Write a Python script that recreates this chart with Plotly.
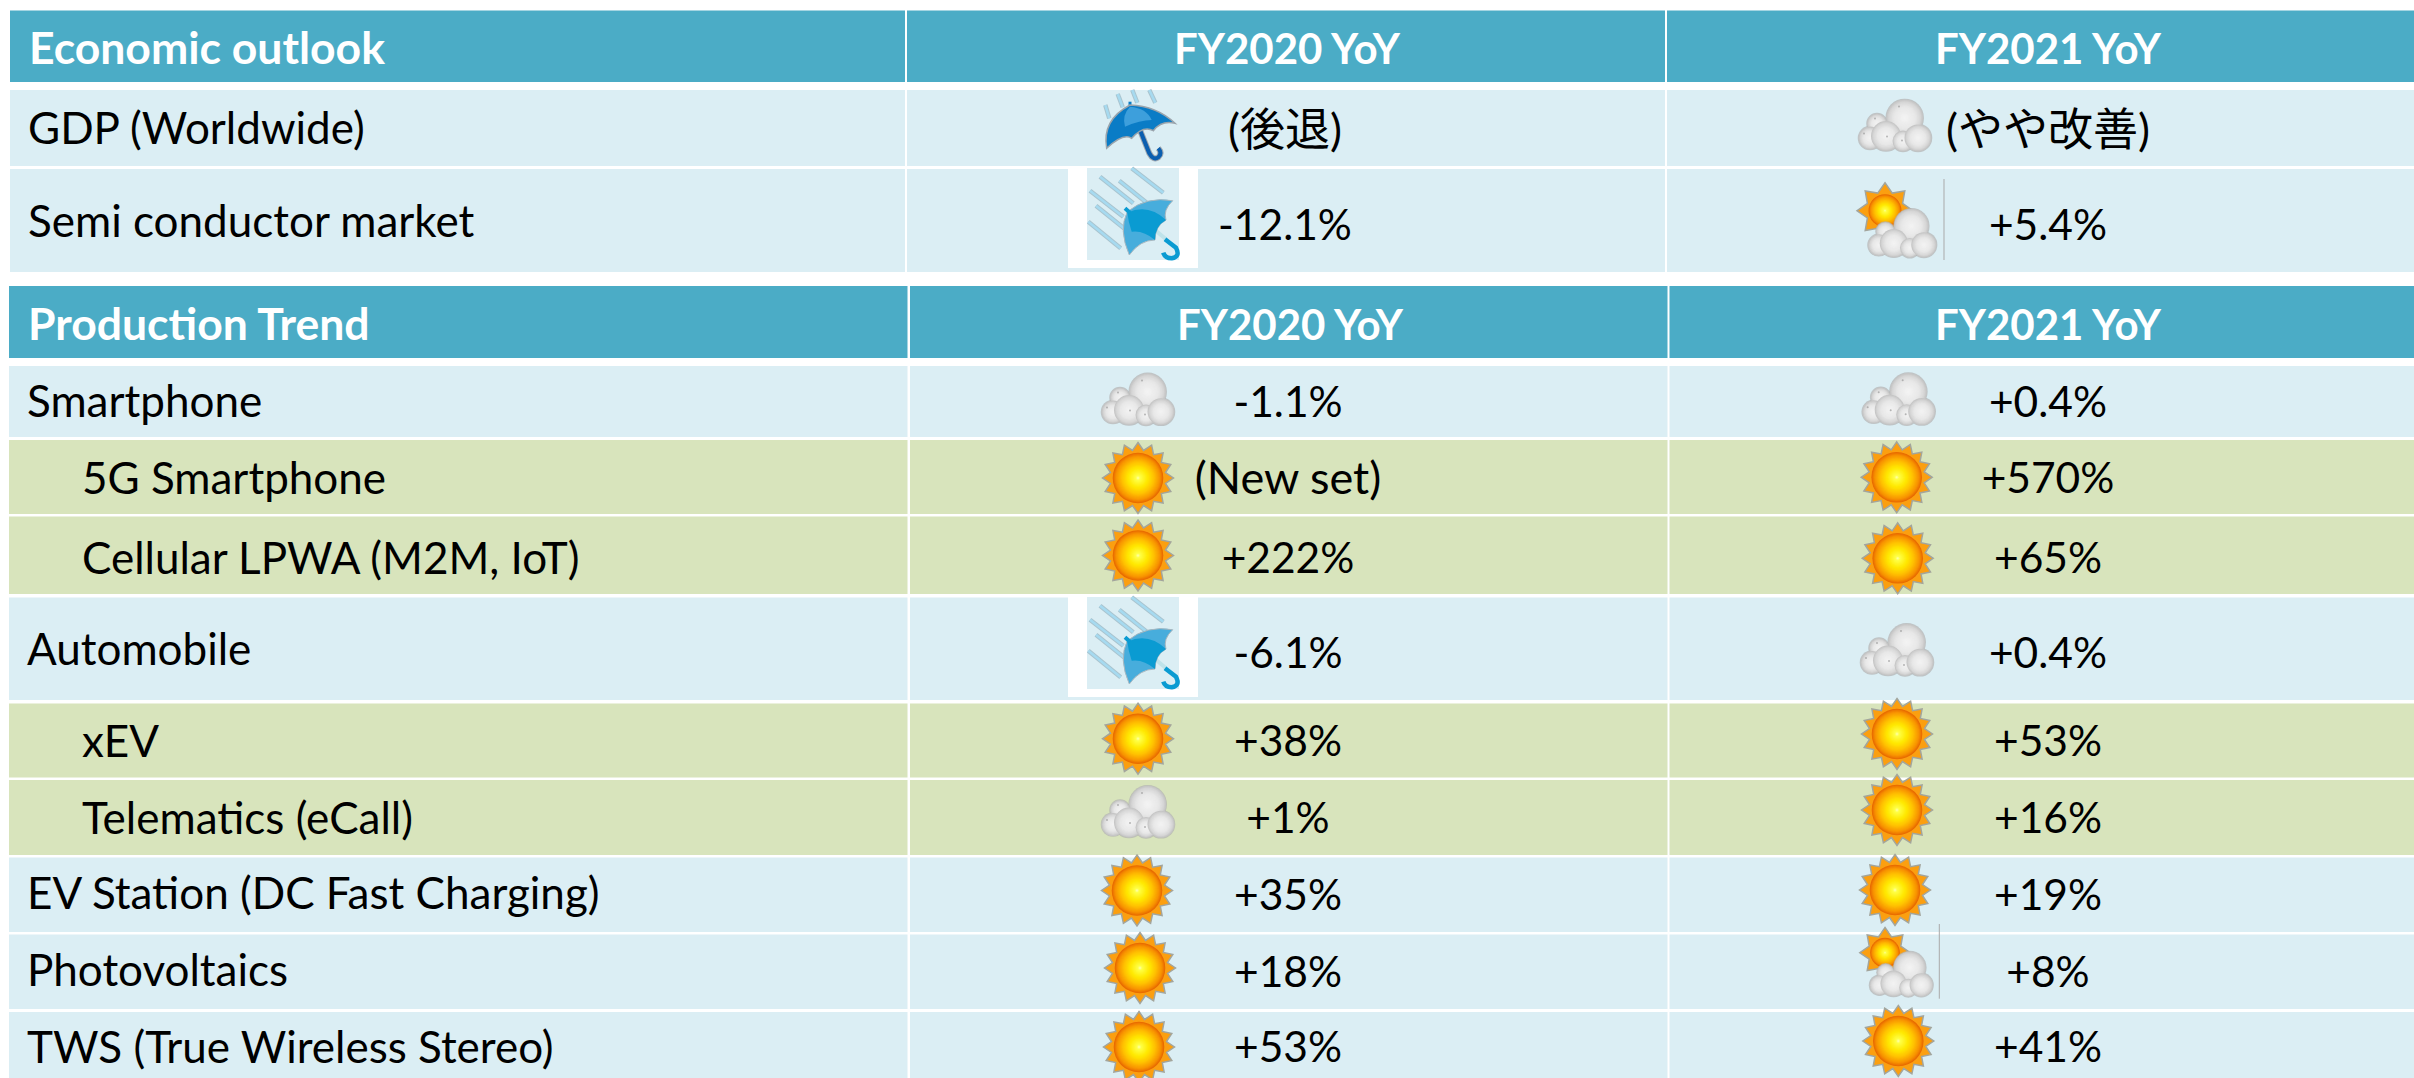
import math
import plotly.graph_objects as go

# ---------- data ----------
outlook_title = "Economic outlook"
trend_title = "Production Trend"
year_labels = ["FY2020 YoY", "FY2021 YoY"]

outlook_labels = ["GDP (Worldwide)", "Semi conductor market"]
outlook_2020 = ["(後退)", "-12.1%"]
outlook_2021 = ["(やや改善)", "+5.4%"]
outlook_icon_2020 = ["umbrella", "rain"]
outlook_icon_2021 = ["cloud", "suncloud"]

trend_labels = ["Smartphone", "5G Smartphone", "Cellular LPWA (M2M, IoT)", "Automobile", "xEV",
                "Telematics (eCall)", "EV Station (DC Fast Charging)", "Photovoltaics",
                "TWS (True Wireless Stereo)"]
trend_2020 = ["-1.1%", "(New set)", "+222%", "-6.1%", "+38%", "+1%", "+35%", "+18%", "+53%"]
trend_2021 = ["+0.4%", "+570%", "+65%", "+0.4%", "+53%", "+16%", "+19%", "+8%", "+41%"]
trend_icon_2020 = ["cloud", "sun", "sun", "rain", "sun", "cloud", "sun", "sun", "sun"]
trend_icon_2021 = ["cloud", "sun", "sun", "cloud", "sun", "sun", "sun", "suncloud", "sun"]
trend_sub = [False, True, True, False, True, True, False, False, False]

# ---------- layout constants (canvas pixels) ----------
W, H = 2414, 1078
HEAD, BLUE, GREEN = "#4BACC6", "#DBEEF4", "#D8E4BC"
FONT = "Lato, 'Noto Sans CJK JP', sans-serif"
FS_LABEL = 44
FS_VALUE = 42.5
FS_CJK = 45
FS_HEAD = 44.5
FS_YEAR = 42

top_cols = [(10, 905), (907, 1665), (1667, 2414)]
low_cols = [(9, 907.5), (910, 1667.5), (1669.5, 2414)]
top_head = (10.5, 82)
low_head = (286, 358)
top_rows = [(90, 166), (169, 272)]
low_rows = [(366, 437), (440, 514), (516.5, 594), (597.5, 700), (703.5, 777.6),
            (780, 855), (857.5, 932), (934.6, 1009), (1012, 1078)]

top_text_y = [132.5, 225.5]
top_val_y = [134.5, 229.5]
low_text_y = [405.5, 482.5, 562.5, 653.5, 745.5, 822.5, 897.5, 974.5, 1051.5]
low_val_y = [406.5, 482.5, 562.5, 657.5, 745.5, 822.5, 899.5, 976.5, 1051.5]
head_y = 53
low_head_y = 329
top_val_x = (1285, 2048)
low_val_x = (1288, 2048)
cloud_top_xy = (1895, 125.6)
low_icon_2020_xy = [(1138, 399.5), (1138, 478), (1138, 555.5), (0, 429), (1138, 738.7),
                    (1138, 812), (1137, 890.5), (1140, 968), (1139, 1047)]
low_icon_2021_xy = [(1898.7, 399.3), (1896.7, 477.3), (1897.7, 558.3), (1897, 650), (1897, 734),
                    (1897, 810), (1895, 890), (1, 1), (1898.3, 1041)]
# sun x, sun y, sun scale, cloud x, cloud y, cloud scale, rule x, rule top, rule bottom
suncloud_geo = [(1885, 210.7, 1.0, 1902.3, 233.3, 0.94, 1944, 179, 260),
                (1885, 952.7, 0.9, 1901.3, 974.3, 0.87, 1939.3, 924, 998.7)]

SUN_STOPS = [(0, (255, 255, 210)), (0.1, (255, 255, 70)), (0.4, (255, 232, 0)), (0.65, (255, 192, 0)),
             (0.88, (248, 146, 0)), (1, (232, 106, 0))]
CLOUD_STOPS = [(0, (244, 244, 244)), (0.6, (232, 232, 232)), (0.88, (214, 214, 214)), (1, (198, 198, 198))]

shapes = []
traces = []


def rect(x0, x1, y0, y1, color):
    shapes.append(dict(type="rect", x0=x0, x1=x1, y0=y0, y1=y1, fillcolor=color,
                       line=dict(width=0), layer="below"))


def path(d, fill=None, line=None, width=0):
    s = dict(type="path", path=d, layer="below", line=dict(width=width, color=line or "rgba(0,0,0,0)"))
    if fill:
        s["fillcolor"] = fill
    shapes.append(s)


def star(cx, cy, r_out, r_in, n):
    pts = []
    for i in range(2 * n):
        r = r_out if i % 2 == 0 else r_in
        a = -math.pi / 2 + i * math.pi / n
        pts.append((cx + r * math.cos(a), cy + r * math.sin(a)))
    return "M" + " L".join(f"{x:.1f},{y:.1f}" for x, y in pts) + " Z"


def zoom_path(template, ox=1040, oy=70, dy=0):
    out = []
    for cmd, c in template:
        step = 4 if cmd == "Q" else 2
        if cmd == "Z":
            out.append("Z")
            continue
        for j in range(0, len(c), step):
            seg = c[j:j + step]
            coords = [f"{ox + seg[i] / 3:.1f},{oy + seg[i + 1] / 3 + dy:.1f}" for i in range(0, len(seg), 2)]
            out.append(cmd + " ".join(coords))
    return " ".join(out)


def stop_color(stops, t):
    for (t0, c0), (t1, c1) in zip(stops, stops[1:]):
        if t <= t1:
            f = (t - t0) / (t1 - t0)
            return "rgb(%d,%d,%d)" % tuple(round(a + (b - a) * f) for a, b in zip(c0, c1))
    return "rgb(%d,%d,%d)" % stops[-1][1]


def shaded(circles, stops, step=1.0):
    """Concentric solid rings, painted from the rim inwards, for each (x, y, r)."""
    xs, ys, sizes, colors = [], [], [], []
    for cx, cy, r in circles:
        n = max(2, int(r / step))
        for i in range(n):
            t = 1 - i / n
            xs.append(cx)
            ys.append(cy)
            sizes.append(2 * r * t)
            colors.append(stop_color(stops, t))
    traces.append(go.Scatter(x=xs, y=ys, mode="markers", hoverinfo="skip", showlegend=False,
                             marker=dict(size=sizes, color=colors, line=dict(width=0), opacity=1)))


def plain(xs, ys, sizes, color):
    traces.append(go.Scatter(x=xs, y=ys, mode="markers", hoverinfo="skip", showlegend=False,
                             marker=dict(size=sizes, color=color, line=dict(width=0))))


def sun(cx, cy):
    path(star(cx, cy, 35.5, 28, 16), fill="#FB9F10", line="#A3A59C", width=1.5)
    shaded([(cx, cy, 25.3)], SUN_STOPS, 0.8)


CLOUD = [(-18, -2, 10), (-25, 12.5, 11.5), (9.7, -7.7, 18.5), (-9, 10.5, 15), (8, 15.5, 10.5), (23, 12.3, 13.5)]
SPECKS = [(4, -19), (-20, -7), (-31, 8), (-8, 11), (7, 15)]


def cloud(cx, cy, k=1.0):
    xs = [cx + a * k for a, b, r in CLOUD]
    ys = [cy + b * k for a, b, r in CLOUD]
    plain(xs, ys, [2 * r * k + 1.5 for a, b, r in CLOUD], "#B0B0B0")
    shaded([(x, y, r * k) for x, y, (_, _, r) in zip(xs, ys, CLOUD)], CLOUD_STOPS, 1.0)
    if k == 1.0:
        plain([cx + a for a, b in SPECKS], [cy + b for a, b in SPECKS], [2] * len(SPECKS), "#9A9A9A")


def suncloud(g):
    sx, sy, sk, cx, cy, ck, lx, l0, l1 = g
    path(star(sx, sy, 28 * sk, 19 * sk, 8), fill="#FB9F10", line="#A3A59C", width=1.5)
    shaded([(sx, sy, 16.5 * sk)], SUN_STOPS, 0.8)
    cloud(cx, cy, ck)
    path(f"M{lx},{l0} L{lx},{l1}", line="#A9A9A9", width=1)


def streak(x0, y0, x1, y1, dy=0):
    d = zoom_path([("M", (x0, y0)), ("L", (x1, y1))], dy=dy)
    path(d, line="#A9C4CF", width=4.5)
    path(d, line="#A6DAF0", width=2.5)


def umbrella():
    for x0, y0, x1, y1 in [(196, 105, 208, 145), (233, 72, 248, 112), (277, 60, 292, 98), (328, 60, 346, 98)]:
        streak(x0, y0, x1, y1)
    handle = zoom_path([("M", (298, 175)), ("L", (328, 250)), ("Q", (340, 272, 355, 262, 368, 250, 355, 235))])
    path(handle, line="#A0A8B0", width=6)
    path(handle, line="#0B5FB0", width=4)
    path(zoom_path([("M", (270, 95)), ("L", (270, 108))]), line="#0A7CC6", width=3)
    canopy = zoom_path([("M", (270, 105)), ("Q", (350, 108, 405, 160, 365, 150, 340, 182, 310, 165, 275, 205,
                                                 250, 188, 200, 235, 185, 150, 270, 105)), ("Z", ())])
    path(canopy, fill="#0A7CC6", line="#9AA4AC", width=1.5)
    path(zoom_path([("M", (270, 110)), ("Q", (320, 115, 335, 150, 300, 150, 255, 170, 245, 135, 270, 110)), ("Z", ())]),
         fill="#3D9FDC")


def rain_icon(dy):
    rect(1068, 1198, 168 + dy, 268 + dy, "#FFFFFF")
    rect(1087, 1179, 168 + dy, 260 + dy, BLUE)
    for x0, y0, x1, y1 in [(275, 295, 370, 368), (180, 320, 280, 400), (238, 332, 335, 410),
                           (150, 362, 250, 440), (168, 407, 265, 485), (145, 455, 242, 535)]:
        streak(x0, y0, x1, y1, dy=dy)
    path(zoom_path([("M", (335, 472)), ("L", (378, 508))], dy=dy), line="#BFE3EA", width=4)
    path(zoom_path([("M", (375, 508)), ("L", (408, 533)), ("Q", (422, 560, 395, 565, 375, 565, 370, 548))], dy=dy),
         line="#0A9BD2", width=4.5)
    canopy = zoom_path([("M", (262, 425)), ("Q", (320, 378, 398, 392, 368, 420, 378, 450, 345, 468, 345, 510,
                                                 300, 510, 268, 555, 235, 480, 262, 425)), ("Z", ())], dy=dy)
    path(canopy, fill="#47ADDC", line="#A8B8C0", width=1)
    path(zoom_path([("M", (262, 428)), ("Q", (325, 400, 378, 450, 345, 468, 345, 510, 310, 480, 275, 485,
                                                 265, 455, 262, 428)), ("Z", ())], dy=dy), fill="#0A9BD2")
    path(zoom_path([("M", (255, 415)), ("L", (270, 428))], dy=dy), line="#0A9BD2", width=4)


def place(kind, xy):
    if kind == "sun":
        sun(*xy)
    elif kind == "cloud":
        cloud(*xy)
    elif kind == "suncloud":
        suncloud(suncloud_geo[xy[1] if xy else 0])
    elif kind == "rain":
        rain_icon(xy[1])
    elif kind == "umbrella":
        umbrella()


def text(xs, ys, labels, pos, size, color="#000000", weight=400):
    traces.append(go.Scatter(x=xs, y=ys, text=labels, mode="text", textposition=pos,
                             textfont=dict(family=FONT, size=size, color=color, weight=weight),
                             hoverinfo="skip", showlegend=False, cliponaxis=False))


# ---------- cells ----------
for cols, head, rows, greens in [(top_cols, top_head, top_rows, [False] * 2),
                                 (low_cols, low_head, low_rows, trend_sub)]:
    for c0, c1 in cols:
        rect(c0, c1, head[0], head[1], HEAD)
        for (r0, r1), g in zip(rows, greens):
            rect(c0, c1, r0, r1, GREEN if g else BLUE)

# ---------- icons ----------
place(outlook_icon_2020[0], None)
place(outlook_icon_2020[1], (0, 0))
place(outlook_icon_2021[0], cloud_top_xy)
place(outlook_icon_2021[1], None)
for kind, xy in zip(trend_icon_2020, low_icon_2020_xy):
    place(kind, xy)
for kind, xy in zip(trend_icon_2021, low_icon_2021_xy):
    place(kind, xy)

# ---------- text ----------
text([29, 28], [head_y, low_head_y], [outlook_title, trend_title], "middle right", FS_HEAD, "#FFFFFF", 700)
text([1287, 2048, 1290, 2048], [head_y, head_y, low_head_y, low_head_y],
     year_labels + year_labels, "middle center", FS_YEAR, "#FFFFFF", 700)
text([28, 28], top_text_y, outlook_labels, "middle right", FS_LABEL)
text([82 if s else 27 for s in trend_sub], low_text_y, trend_labels, "middle right", FS_LABEL)
text([top_val_x[0]] * 2 + [top_val_x[1]] * 2, top_val_y + top_val_y, outlook_2020 + outlook_2021, "middle center",
     [FS_CJK, FS_VALUE, FS_CJK, FS_VALUE])
text([low_val_x[0]] * 9 + [low_val_x[1]] * 9, low_val_y + low_val_y, trend_2020 + trend_2021, "middle center",
     [FS_VALUE, FS_CJK] + [FS_VALUE] * 16)

fig = go.Figure(traces)
fig.update_layout(width=W, height=H, margin=dict(l=0, r=0, t=0, b=0), paper_bgcolor="#FFFFFF",
                  plot_bgcolor="#FFFFFF", shapes=shapes, showlegend=False,
                  xaxis=dict(range=[0, W], visible=False, fixedrange=True),
                  yaxis=dict(range=[H, 0], visible=False, fixedrange=True))
fig.write_html("out.html", config=dict(displayModeBar=False),
               post_script="document.body.style.margin='0';document.body.style.overflow='hidden';")
